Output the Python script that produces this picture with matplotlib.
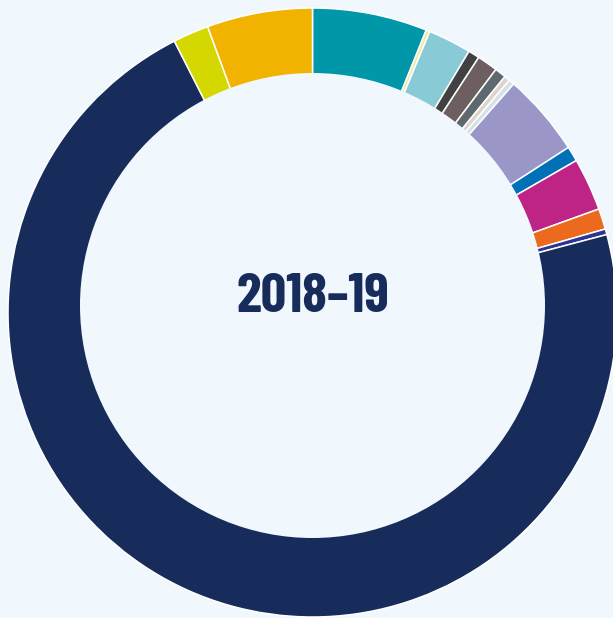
import matplotlib
matplotlib.use("Agg")
import matplotlib.pyplot as plt
from matplotlib.patches import Circle

categories = ["Teal", "Pale yellow", "Light teal", "Dark grey", "Brown", "Slate", "Beige",
              "Light grey", "Lavender", "Blue", "Magenta", "Orange", "Indigo", "Navy",
              "Yellow-green", "Gold"]
values = [6.1, 0.2, 2.3, 0.6, 1.1, 0.6, 0.3, 0.3, 4.4, 0.8, 2.8, 1.1, 0.3, 71.7, 1.9, 5.6]
colors = ["#0098A9", "#EFEB9C", "#88CAD5", "#414141", "#6D5F5F", "#5D686F", "#DDD4CA",
          "#D5E1EA", "#9A96C8", "#0070B7", "#BE2386", "#EB6A1D", "#2B3592", "#172C5B",
          "#D4D700", "#F2B300"]
title = "2018–19"

BG = "#F0F8FE"
W, H = 613, 618
fig = plt.figure(figsize=(W / 100, H / 100), dpi=100)
fig.patch.set_facecolor(BG)
ax = fig.add_axes([0, 0, 1, 1])
ax.set_facecolor(BG)

cx, cy, R = 312.5, H - 312.5, 304.5
ax.pie(values, colors=colors, startangle=90, counterclock=False,
       radius=R, center=(cx, cy),
       wedgeprops=dict(edgecolor="white", linewidth=1.1))
ax.add_patch(Circle((312.5, H - 305.5), 232.5, facecolor=BG, edgecolor="none", zorder=5))
ax.set_xlim(0, W)
ax.set_ylim(0, H)
ax.set_aspect("auto")
ax.axis("off")

ax.text(cx, H - 297, title, ha="center", va="center", fontsize=40.5, fontweight="bold",
        color="#172C5B", family=["Barlow Condensed", "DejaVu Sans"], zorder=6)

fig.savefig("out.png", dpi=100, facecolor=fig.get_facecolor())
